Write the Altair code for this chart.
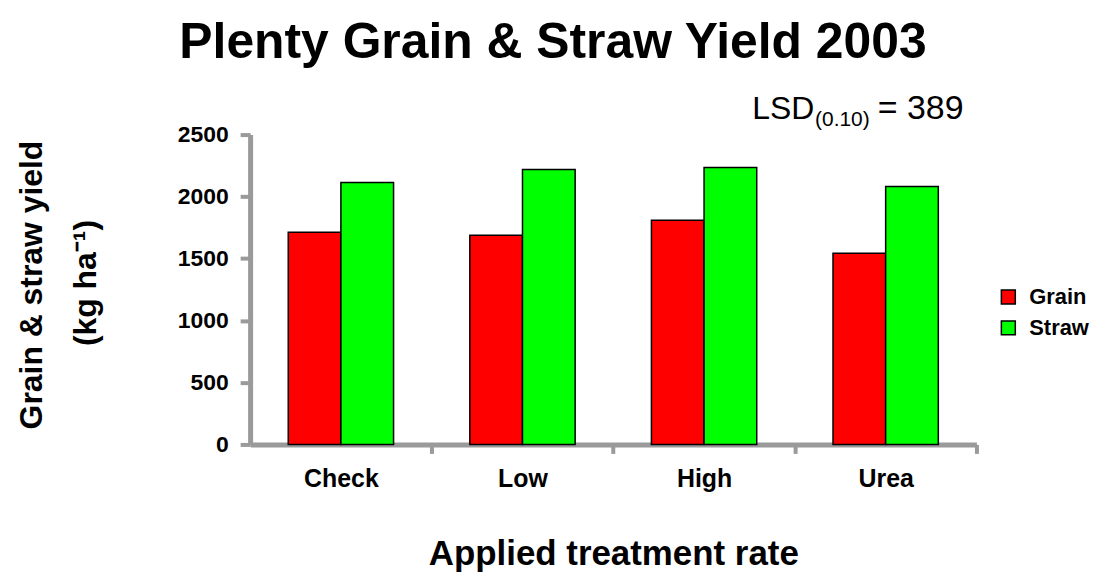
import altair as alt
import pandas as pd

treatments = ["Check", "Low", "High", "Urea"]
series = ["Grain", "Straw"]
grain = [1712, 1688, 1809, 1543]
straw = [2114, 2219, 2235, 2082]
colors = ["#FF0000", "#00FF00"]
y_ticks = [0, 500, 1000, 1500, 2000, 2500]

title_text = "Plenty Grain & Straw Yield 2003"
x_title = "Applied treatment rate"
y_title_1 = "Grain & straw yield"
y_title_2 = "(kg ha\u207b\u00b9)"
lsd_main = "LSD"
lsd_sub = "(0.10)"
lsd_value = "= 389"

rows = []
for t, g, s in zip(treatments, grain, straw):
    rows.append({"treatment": t, "series": "Grain", "value": g})
    rows.append({"treatment": t, "series": "Straw", "value": s})
df = pd.DataFrame(rows)

FONT = "Liberation Sans, Arial, sans-serif"
GREY = "#9a9a9a"
HALF_STEP = 91

bars = alt.Chart(df).mark_bar(stroke="black", strokeWidth=1.5).encode(
    x=alt.X(
        "treatment:N",
        sort=treatments,
        scale=alt.Scale(paddingInner=0.42, paddingOuter=0.21),
        axis=alt.Axis(
            title=x_title,
            titleFont=FONT,
            titleFontSize=35,
            titleFontWeight="bold",
            titleColor="black",
            titleY=121,
            titleBaseline="alphabetic",
            labelAngle=0,
            labelFont=FONT,
            labelFontSize=25,
            labelFontWeight="bold",
            labelColor="black",
            labelPadding=13,
            tickOffset=HALF_STEP,
            labelOffset=-HALF_STEP,
            tickSize=9,
            tickWidth=4,
            tickColor=GREY,
            domainColor=GREY,
            domainWidth=5,
        ),
    ),
    xOffset=alt.XOffset("series:N", sort=series, scale=alt.Scale(paddingInner=0, paddingOuter=0)),
    y=alt.Y(
        "value:Q",
        scale=alt.Scale(domain=[0, 2500], nice=False),
        axis=alt.Axis(
            values=y_ticks,
            format="d",
            title=None,
            labelFont=FONT,
            labelFontSize=23,
            labelFontWeight="bold",
            labelColor="black",
            labelPadding=12,
            tickSize=10,
            tickWidth=4,
            tickColor=GREY,
            domainColor=GREY,
            domainWidth=5,
        ),
    ),
    color=alt.Color(
        "series:N",
        sort=series,
        scale=alt.Scale(domain=series, range=colors),
        legend=alt.Legend(
            title=None,
            orient="none",
            legendX=750,
            legendY=152,
            symbolType="square",
            symbolSize=196,
            symbolStrokeColor="black",
            symbolStrokeWidth=1.5,
            symbolOpacity=1,
            labelFont=FONT,
            labelFontSize=22,
            labelFontWeight="bold",
            labelColor="black",
            labelOffset=10,
            rowPadding=9,
            labelLimit=200,
        ),
    ),
)


def text_layer(txt, x, y, size, weight="normal", align="left", baseline="alphabetic", angle=0):
    return alt.Chart(pd.DataFrame({"label": [txt]})).mark_text(
        font=FONT,
        fontSize=size,
        fontWeight=weight,
        align=align,
        baseline=baseline,
        angle=angle,
        color="black",
    ).encode(text="label:N", x=alt.value(x), y=alt.value(y))


texts = [
    text_layer(title_text, 304, -77, 50, weight="bold", align="center"),
    text_layer(y_title_1, -219, 151, 32, weight="bold", align="center", baseline="middle", angle=270),
    text_layer(y_title_2, -165, 149, 32, weight="bold", align="center", baseline="middle", angle=270),
    text_layer(lsd_main, 504, -16, 32),
    text_layer(lsd_sub, 567, -9, 21),
    text_layer(lsd_value, 630, -16, 34),
]

chart = alt.layer(bars, *texts).properties(
    width=729,
    height=311,
    padding={"left": 243, "top": 126, "right": 122, "bottom": 130},
    autosize=alt.AutoSizeParams(type="none"),
).configure_view(stroke=None).configure_axis(grid=False)

chart.save("out.html", embed_options={"renderer": "svg", "actions": False})
